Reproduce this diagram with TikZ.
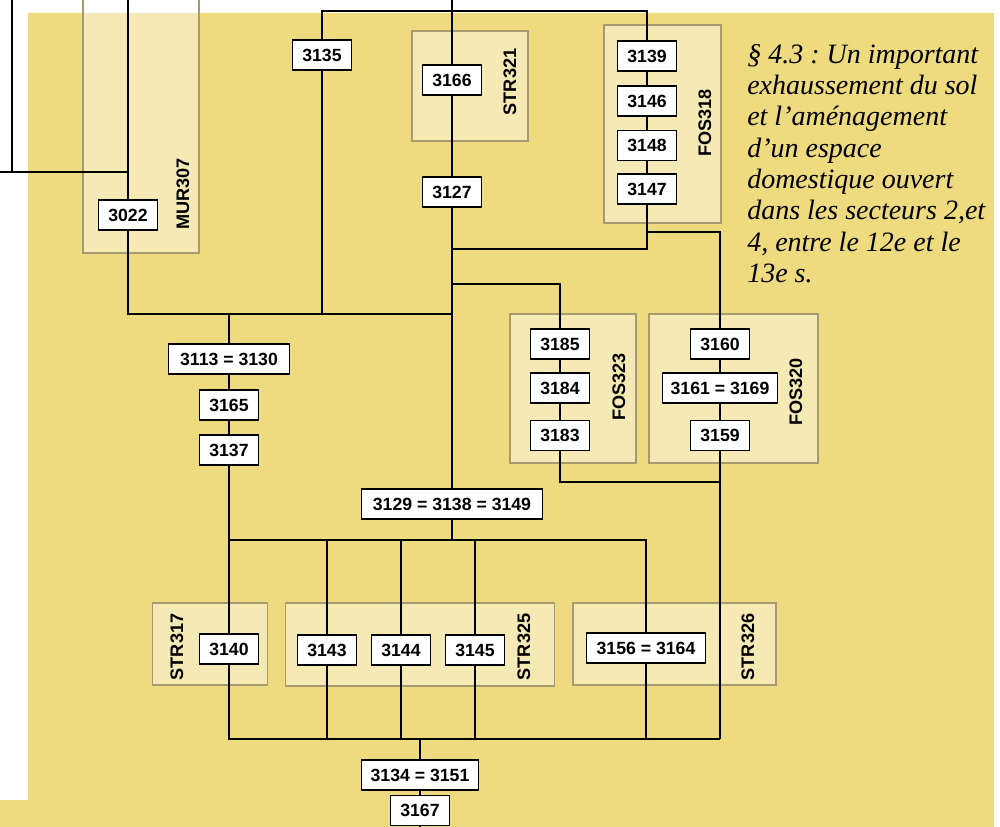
\documentclass[tikz,border=0pt]{standalone}
\usepackage{fontspec}
\setmainfont{Liberation Serif}
\setsansfont{Liberation Sans}
\pgfdeclarelayer{grp}
\pgfdeclarelayer{wire}
\pgfsetlayers{grp,wire,main}
\definecolor{bgyellow}{RGB}{238,219,128}
\definecolor{grpborder}{RGB}{165,155,110}
\begin{document}
\begin{tikzpicture}[x=0.75pt,y=-0.75pt,
  box/.style={draw=black, line width=0.9pt, fill=white, font=\sffamily\bfseries\fontsize{13.25}{15}\selectfont, minimum width=44.6pt, minimum height=22.5pt, inner sep=1pt},
  grp/.style={draw=grpborder, line width=0.9pt, fill=white, fill opacity=0.43},
  glabel/.style={rotate=90, font=\sffamily\bfseries\fontsize{13.6}{15}\selectfont, inner sep=0pt},
  wire/.style={line width=1pt, black}]
\useasboundingbox (0,0) rectangle (1000,827);

\begin{pgfonlayer}{grp}
\fill[bgyellow] (28,13) -- (994,13) -- (994,827) -- (0,827) -- (0,800) -- (28,800) -- cycle;
\draw[grp] (83,-5) rectangle (199,253);
\draw[grp] (412,31) rectangle (528,141);
\draw[grp] (604,25) rectangle (721,223);
\draw[grp] (510,314) rectangle (636,463);
\draw[grp] (649,314) rectangle (818,463);
\draw[grp] (152.6,603) rectangle (267.5,685);
\draw[grp] (285.7,603) rectangle (554.6,686);
\draw[grp] (573,603) rectangle (776,685);
\end{pgfonlayer}

% group labels
\node[glabel] (lMUR307) at (183,194) {MUR307};
\node[glabel] (lSTR321) at (510,82) {STR321};
\node[glabel] (lFOS318) at (705,123) {FOS318};
\node[glabel] (lFOS323) at (619,387) {FOS323};
\node[glabel] (lFOS320) at (796,392) {FOS320};
\node[glabel] (lSTR317) at (177,647) {STR317};
\node[glabel] (lSTR325) at (524,647) {STR325};
\node[glabel] (lSTR326) at (748,647) {STR326};

% boxes
\node[box] (n3022) at (128,215) {3022};
\node[box] (n3135) at (322,55) {3135};
\node[box] (n3166) at (452,80) {3166};
\node[box] (n3127) at (452,192) {3127};
\node[box] (n3139) at (647,56) {3139};
\node[box] (n3146) at (647,101) {3146};
\node[box] (n3148) at (647,145.5) {3148};
\node[box] (n3147) at (647,189) {3147};
\node[box, minimum width=90.75pt] (n3113) at (229,359) {3113 = 3130};
\node[box] (n3165) at (229,405) {3165};
\node[box] (n3137) at (229,450) {3137};
\node[box] (n3185) at (560,344) {3185};
\node[box] (n3184) at (560,388) {3184};
\node[box] (n3183) at (560,435.5) {3183};
\node[box] (n3160) at (720,344) {3160};
\node[box, minimum width=86.25pt] (n3161) at (720,388) {3161 = 3169};
\node[box] (n3159) at (720,435.5) {3159};
\node[box, minimum width=135.75pt] (n3129) at (452,504) {3129 = 3138 = 3149};
\node[box] (n3140) at (229,649) {3140};
\node[box] (n3143) at (327,650) {3143};
\node[box] (n3144) at (401,650) {3144};
\node[box] (n3145) at (475,650) {3145};
\node[box, minimum width=89.6pt] (n3156) at (646,648) {3156 = 3164};
\node[box, minimum width=87.75pt] (n3134) at (420,775) {3134 = 3151};
\node[box] (n3167) at (420,810.5) {3167};

% text
\node[anchor=north west, align=left, inner sep=0pt, font=\frenchspacing\itshape\fontsize{21}{23.5}\selectfont] (txt) at (747,44)
{§ 4.3 : Un important\\exhaussement du sol\\et l’aménagement\\d’un espace\\domestique ouvert\\dans les secteurs 2,et\\4, entre le 12e et le\\13e s.};

% junction coordinates
\coordinate (tA) at (128,0);
\coordinate (tB) at (452,0);
\coordinate (tL) at (12,0);
\coordinate (kL) at (12,172);
\coordinate (hL) at (0,172);
\coordinate (hR) at (128,172);
\coordinate (j1) at (128,314);
\coordinate (j2) at (452,314);
\coordinate (j3) at (322,314);
\coordinate (j4) at (229,314);
\coordinate (t1) at (322,11);
\coordinate (t2) at (647,11);
\coordinate (f1) at (647,249);
\coordinate (f2) at (452,249);
\coordinate (f3) at (647,232);
\coordinate (f4) at (720,232);
\coordinate (g1) at (452,284);
\coordinate (g2) at (560,284);
\coordinate (m1) at (560,482);
\coordinate (m2) at (720,482);
\coordinate (b1) at (229,540);
\coordinate (b2) at (646,540);
\coordinate (b3) at (452,540);
\coordinate (b4) at (327,540);
\coordinate (b5) at (401,540);
\coordinate (b6) at (475,540);
\coordinate (c1) at (229,739);
\coordinate (c2) at (720,739);
\coordinate (c3) at (327,739);
\coordinate (c4) at (401,739);
\coordinate (c5) at (475,739);
\coordinate (c6) at (646,739);
\coordinate (c7) at (420,739);
\coordinate (e1) at (420,827);

\begin{pgfonlayer}{wire}
\draw[wire] (tA) -- (n3022);
\draw[wire] (tL) -- (kL);
\draw[wire] (hL) -- (hR);
\draw[wire] (n3022) -- (j1) -- (j2);
\draw[wire] (n3135) -- (j3);
\draw[wire] (n3135) -- (t1) -- (t2) -- (n3139);
\draw[wire] (tB) -- (n3166) -- (n3127) -- (n3129);
\draw[wire] (n3139) -- (n3146) -- (n3148) -- (n3147) -- (f1) -- (f2);
\draw[wire] (f3) -- (f4) -- (n3160);
\draw[wire] (g1) -- (g2) -- (n3185) -- (n3184) -- (n3183) -- (m1) -- (m2);
\draw[wire] (n3160) -- (n3161) -- (n3159) -- (c2);
\draw[wire] (j4) -- (n3113) -- (n3165) -- (n3137) -- (n3140);
\draw[wire] (n3129) -- (b3);
\draw[wire] (b1) -- (b2) -- (n3156);
\draw[wire] (b4) -- (n3143);
\draw[wire] (b5) -- (n3144);
\draw[wire] (b6) -- (n3145);
\draw[wire] (n3140) -- (c1) -- (c2);
\draw[wire] (n3143) -- (c3);
\draw[wire] (n3144) -- (c4);
\draw[wire] (n3145) -- (c5);
\draw[wire] (n3156) -- (c6);
\draw[wire] (c7) -- (n3134) -- (n3167) -- (e1);
\end{pgfonlayer}
\end{tikzpicture}
\end{document}
